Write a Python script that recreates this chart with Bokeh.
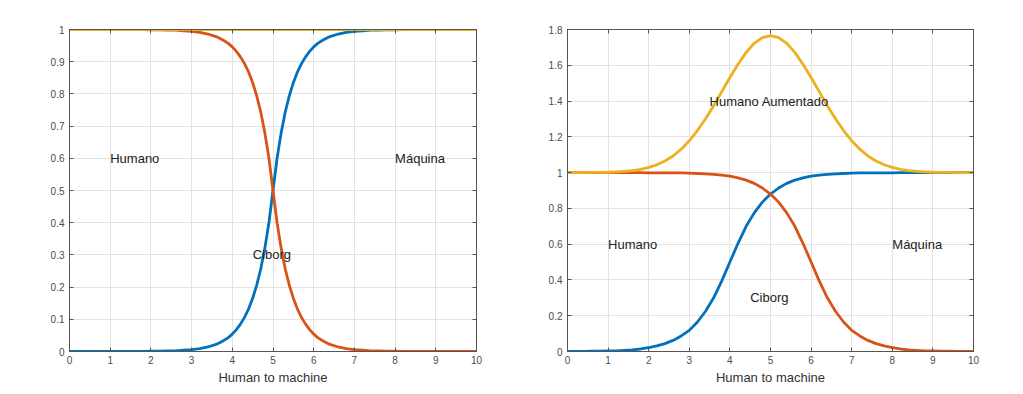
from bokeh.plotting import figure
from bokeh.layouts import row
from bokeh.models import Range1d, FixedTicker, CustomJSTickFormatter, LinearAxis
from bokeh.core.properties import value
from bokeh.embed import file_html
from bokeh.resources import INLINE

# ---------------- data ----------------
# left panel (finer sampling around the crossing)
left_x = [0.0, 0.2, 0.4, 0.6, 0.8, 1.0, 1.2, 1.4, 1.6, 1.8,
          2.0, 2.2, 2.4, 2.6, 2.8, 3.0, 3.2, 3.4,
          3.6, 3.7, 3.8, 3.9, 4.0, 4.1, 4.2, 4.3, 4.4, 4.5,
          4.6, 4.7, 4.8, 4.9, 5.0, 5.1, 5.2, 5.3, 5.4, 5.5,
          5.6, 5.7, 5.8, 5.9, 6.0, 6.1, 6.2, 6.3, 6.4,
          6.6, 6.8, 7.0, 7.2, 7.4, 7.6, 7.8, 8.0,
          8.2, 8.4, 8.6, 8.8, 9.0, 9.2, 9.4, 9.6, 9.8, 10.0]
left_machine = [0, 0, 0, 0, 0, 0, 0, 0, 0, 0,
                0.001, 0.001, 0.002, 0.002, 0.004, 0.006, 0.009, 0.014,
                0.022, 0.028, 0.035, 0.043, 0.054, 0.068, 0.085, 0.106, 0.132, 0.165,
                0.206, 0.257, 0.321, 0.40, 0.5, 0.60, 0.679, 0.743, 0.794, 0.835,
                0.868, 0.894, 0.915, 0.932, 0.946, 0.957, 0.965, 0.972, 0.978,
                0.986, 0.991, 0.994, 0.996, 0.998, 0.998, 0.999, 0.999,
                1, 1, 1, 1, 1, 1, 1, 1, 1, 1]
left_human = [1, 1, 1, 1, 1, 1, 1, 1, 1, 1,
              0.999, 0.999, 0.998, 0.998, 0.996, 0.994, 0.991, 0.986,
              0.978, 0.972, 0.965, 0.957, 0.946, 0.932, 0.915, 0.894, 0.868, 0.835,
              0.794, 0.743, 0.679, 0.60, 0.5, 0.40, 0.321, 0.257, 0.206, 0.165,
              0.132, 0.106, 0.085, 0.068, 0.054, 0.043, 0.035, 0.028, 0.022,
              0.014, 0.009, 0.006, 0.004, 0.002, 0.002, 0.001, 0.001,
              0, 0, 0, 0, 0, 0, 0, 0, 0, 0]
left_total_x = [0, 2, 4, 6, 8, 10]
left_total = [1, 1, 1, 1, 1, 1]

# right panel
right_x = [0.0, 0.2, 0.4, 0.6, 0.8, 1.0, 1.2, 1.4, 1.6, 1.8,
           2.0, 2.2, 2.4, 2.6, 2.8, 3.0, 3.2, 3.4, 3.6, 3.8,
           4.0, 4.2, 4.4, 4.6, 4.8, 5.0, 5.2, 5.4, 5.6, 5.8,
           6.0, 6.2, 6.4, 6.6, 6.8, 7.0, 7.2, 7.4, 7.6, 7.8,
           8.0, 8.2, 8.4, 8.6, 8.8, 9.0, 9.2, 9.4, 9.6, 9.8, 10.0]
right_machine = [0.001, 0.001, 0.001, 0.002, 0.002, 0.003, 0.004, 0.006, 0.009, 0.014,
                 0.022, 0.031, 0.044, 0.062, 0.087, 0.118, 0.165, 0.225, 0.30, 0.395,
                 0.50, 0.605, 0.70, 0.775, 0.835, 0.88, 0.914, 0.94, 0.958, 0.971,
                 0.98, 0.986, 0.99, 0.993, 0.995, 0.997, 0.998, 0.998, 0.999, 0.999,
                 0.999, 1, 1, 1, 1, 1, 1, 1, 1, 1, 1]
right_human = [1, 1, 1, 1, 1, 1, 1, 1, 1, 1,
               0.999, 0.999, 0.999, 0.998, 0.998, 0.997, 0.995, 0.993, 0.99, 0.986,
               0.98, 0.971, 0.958, 0.94, 0.914, 0.88, 0.835, 0.775, 0.70, 0.605,
               0.50, 0.395, 0.30, 0.225, 0.165, 0.118, 0.087, 0.062, 0.044, 0.031,
               0.022, 0.014, 0.009, 0.006, 0.004, 0.003, 0.002, 0.002, 0.001, 0.001, 0.001]
right_augmented = [1.0, 1.0, 1.0, 1.001, 1.001, 1.002, 1.004, 1.007, 1.011, 1.018,
                   1.029, 1.044, 1.065, 1.093, 1.131, 1.178, 1.235, 1.301, 1.374, 1.453,
                   1.532, 1.606, 1.672, 1.723, 1.755, 1.766, 1.755, 1.723, 1.672, 1.606,
                   1.532, 1.453, 1.374, 1.301, 1.235, 1.178, 1.131, 1.093, 1.065, 1.044,
                   1.029, 1.018, 1.011, 1.007, 1.004, 1.002, 1.001, 1.001, 1.0, 1.0, 1.0]

x_ticks = [0, 1, 2, 3, 4, 5, 6, 7, 8, 9, 10]
left_y_ticks = [0, 0.1, 0.2, 0.3, 0.4, 0.5, 0.6, 0.7, 0.8, 0.9, 1]
right_y_ticks = [0, 0.2, 0.4, 0.6, 0.8, 1, 1.2, 1.4, 1.6, 1.8]

left_labels = ["Humano", "Máquina", "Ciborg"]
left_label_x = [1, 8, 4.5]
left_label_y = [0.6, 0.6, 0.3]
right_labels = ["Humano", "Máquina", "Ciborg", "Humano Aumentado"]
right_label_x = [1, 8, 4.5, 3.5]
right_label_y = [0.6, 0.6, 0.3, 1.4]

BLUE = "#0072BD"
RED = "#D95319"
YELLOW = "#EDB120"
FONT = "Liberation Sans"
AXC = "#555555"
LW = 2.8


def make_fig(width, ymax, yticks, bl, br):
    p = figure(width=width, height=388, output_backend="svg", toolbar_location=None,
               x_range=Range1d(0, 10), y_range=Range1d(0, ymax),
               min_border_left=bl, min_border_right=br, min_border_top=29, min_border_bottom=37)
    fmt = CustomJSTickFormatter(code="return String(Math.round(tick*10)/10);")
    for ax in [p.xaxis[0], p.yaxis[0]]:
        ax.major_tick_in = 4
        ax.major_tick_out = 0
        ax.minor_tick_in = 0
        ax.minor_tick_out = 0
        ax.axis_line_color = AXC
        ax.major_tick_line_color = AXC
        ax.major_label_text_font = FONT
        ax.major_label_text_font_size = "10px"
        ax.major_label_text_color = "#4d4d4d"
        ax.formatter = fmt
    p.xaxis[0].ticker = FixedTicker(ticks=x_ticks)
    p.yaxis[0].ticker = FixedTicker(ticks=yticks)
    p.xaxis[0].major_label_standoff = 4
    p.yaxis[0].major_label_standoff = 5
    p.xaxis[0].axis_label = "Human to machine"
    p.xaxis[0].axis_label_text_font = FONT
    p.xaxis[0].axis_label_text_font_size = "13px"
    p.xaxis[0].axis_label_text_font_style = "normal"
    p.xaxis[0].axis_label_text_color = "#333333"
    p.xaxis[0].axis_label_standoff = 3

    top = LinearAxis(ticker=FixedTicker(ticks=x_ticks), major_label_text_color=None,
                     major_label_text_font_size="1px",
                     major_tick_in=4, major_tick_out=0, minor_tick_in=0, minor_tick_out=0,
                     axis_line_color=AXC, major_tick_line_color=AXC)
    right = LinearAxis(ticker=FixedTicker(ticks=yticks), major_label_text_color=None,
                       major_label_text_font_size="1px",
                       major_tick_in=4, major_tick_out=0, minor_tick_in=0, minor_tick_out=0,
                       axis_line_color=AXC, major_tick_line_color=AXC)
    p.add_layout(top, "above")
    p.add_layout(right, "right")

    p.xgrid.ticker = FixedTicker(ticks=x_ticks)
    p.ygrid.ticker = FixedTicker(ticks=yticks)
    p.xgrid.grid_line_color = "#e3e3e3"
    p.ygrid.grid_line_color = "#e3e3e3"
    p.outline_line_color = AXC
    p.background_fill_color = "white"
    p.border_fill_color = "white"
    return p


p1 = make_fig(511, 1, left_y_ticks, 69, 35)
p1.line(left_x, left_machine, line_color=BLUE, line_width=LW, line_join="round")
p1.line(left_x, left_human, line_color=RED, line_width=LW, line_join="round")
p1.line(left_total_x, left_total, line_color=YELLOW, line_width=LW)
p1.text(left_label_x, left_label_y, text=left_labels, text_font=value(FONT),
        text_font_size="13px", text_align="left", text_baseline="middle", text_color="#222222")

p2 = make_fig(504, 1.8, right_y_ticks, 56, 42)
p2.line(right_x, right_machine, line_color=BLUE, line_width=LW, line_join="round")
p2.line(right_x, right_human, line_color=RED, line_width=LW, line_join="round")
p2.line(right_x, right_augmented, line_color=YELLOW, line_width=LW, line_join="round")
p2.text(right_label_x, right_label_y, text=right_labels, text_font=value(FONT),
        text_font_size="13px", text_align="left", text_baseline="middle", text_color="#222222")

layout = row(p1, p2)
open("out.html", "w").write(file_html(layout, INLINE))
